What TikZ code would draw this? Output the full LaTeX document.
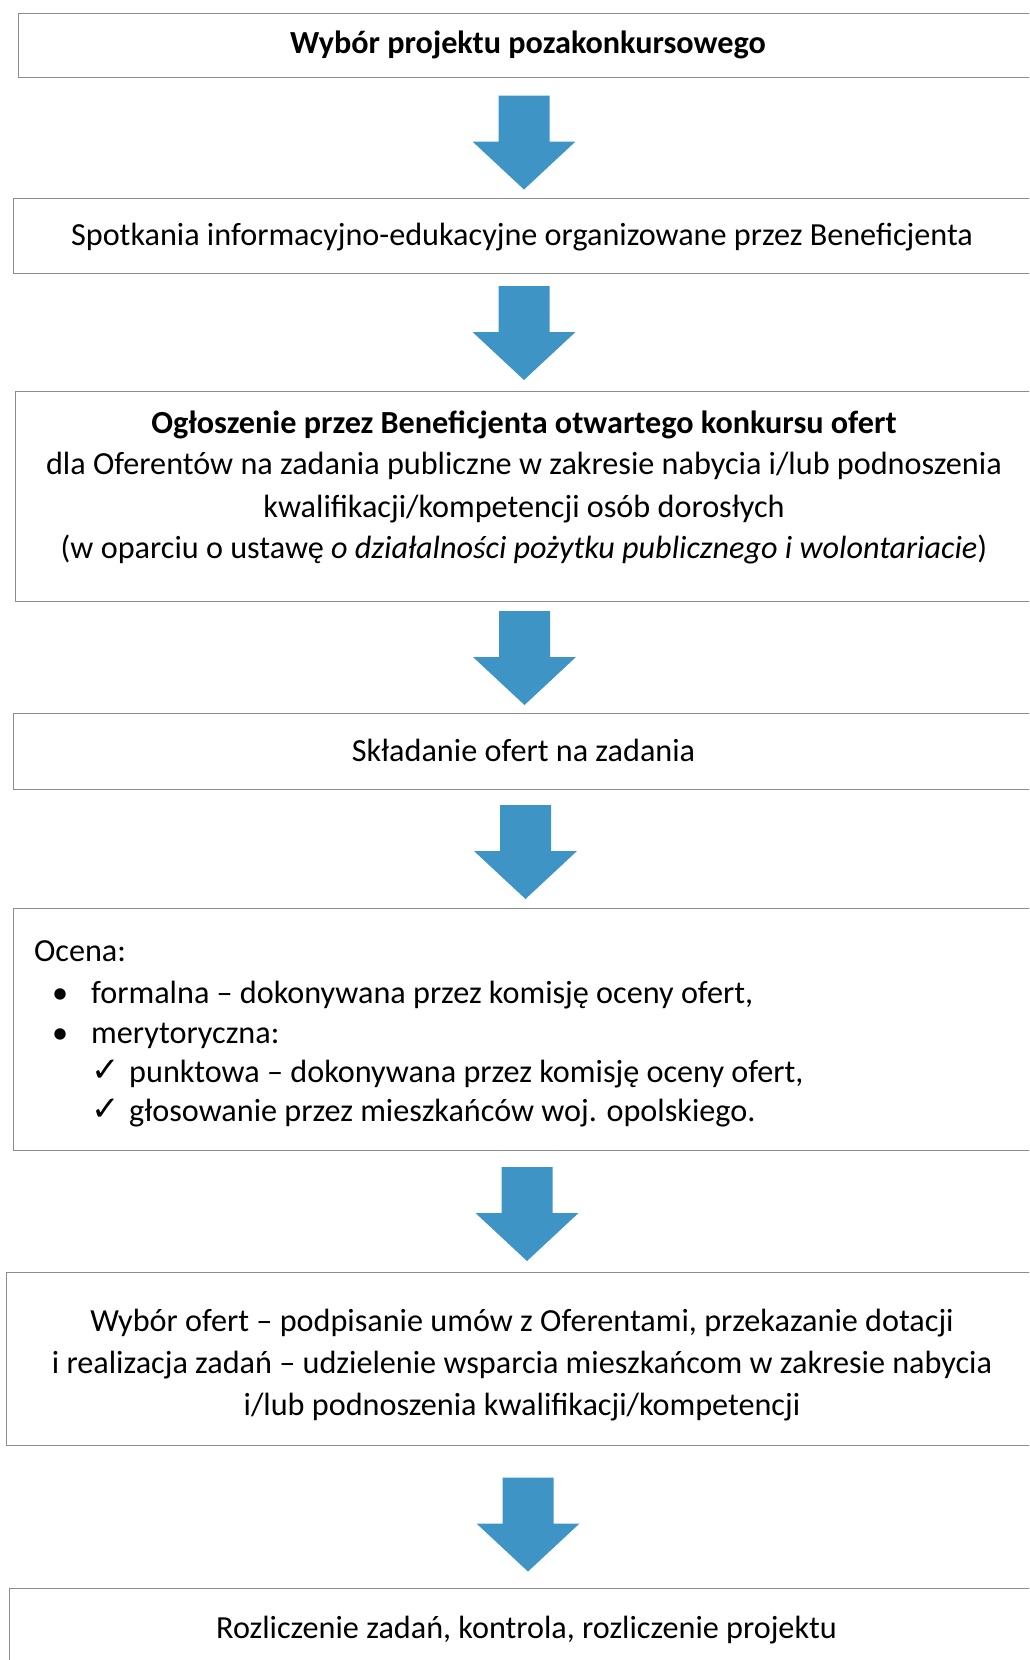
\documentclass[tikz,border=0pt]{standalone}
\usepackage{fontspec}
\setmainfont{Carlito}
\newfontfamily\symfont{DejaVu Sans}
\definecolor{arrowblue}{RGB}{62,148,196}
\definecolor{boxgray}{RGB}{140,140,140}
\begin{document}
\begin{tikzpicture}[x=1pt,y=-1pt,
  box/.style={draw=boxgray, line width=1pt, rectangle, anchor=north west, inner sep=0pt},
  txt/.style={anchor=base, inner sep=0pt, font=\fontsize{32.2}{42}\selectfont},
  ltxt/.style={anchor=base west, inner sep=0pt, font=\fontsize{32.2}{42}\selectfont},
  chk/.style={anchor=base west, inner sep=0pt, font=\symfont\fontsize{34}{36}\selectfont},
  downarrow/.pic={\fill[arrowblue] (-25.5,0) -- (25.5,0) -- (25.5,46) -- (51.5,46) -- (0,94) -- (-51.5,46) -- (-25.5,46) -- cycle;}
]
\useasboundingbox (0,0) rectangle (1029,1660);
\fill[white] (0,0) rectangle (1029,1660);
\clip (0,0) rectangle (1029,1660);

% boxes
\node[box, minimum width=1017pt, minimum height=64.6pt] (b1) at (18,12.7) {};
\node[box, minimum width=1022pt, minimum height=75pt] (b2) at (12.7,198) {};
\node[box, minimum width=1020pt, minimum height=210.4pt] (b3) at (14.8,390.6) {};
\node[box, minimum width=1022pt, minimum height=76.2pt] (b4) at (12.7,712.5) {};
\node[box, minimum width=1022pt, minimum height=241.6pt] (b5) at (12.7,908) {};
\node[box, minimum width=1029pt, minimum height=172.6pt] (b6) at (6.4,1272.4) {};
\node[box, minimum width=1027pt, minimum height=90pt] (b7) at (8.5,1588) {};

% texts
\node[txt] (t1) at (528,53) {\textbf{Wybór projektu pozakonkursowego}};
\node[txt] (t2) at (522,245) {Spotkania informacyjno-edukacyjne organizowane przez Beneficjenta};
\node[txt] (t3a) at (524,433) {\textbf{Ogłoszenie przez Beneficjenta otwartego konkursu ofert}};
\node[txt] (t3b) at (524,474.7) {dla Oferentów na zadania publiczne w zakresie nabycia i/lub podnoszenia};
\node[txt] (t3c) at (524,517) {kwalifikacji/kompetencji osób dorosłych};
\node[txt] (t3d) at (524,558.3) {(w oparciu o ustawę \textit{o działalności pożytku publicznego i wolontariacie})};
\node[txt] (t4) at (523.5,761.6) {Składanie ofert na zadania};

\node[ltxt] (t5a) at (33.9,961.6) {Ocena:};
\node[ltxt] (t5b1) at (52,1003) {•};
\node[ltxt] (t5b) at (91,1003) {formalna – dokonywana przez komisję oceny ofert,};
\node[ltxt] (t5c1) at (52,1043) {•};
\node[ltxt] (t5c) at (91,1043) {merytoryczna:};
\node[chk] (t5d1) at (91,1081) {✓};
\node[ltxt] (t5d) at (129,1082) {punktowa – dokonywana przez komisję oceny ofert,};
\node[chk] (t5e1) at (91,1120.5) {✓};
\node[ltxt] (t5e) at (129,1121.5) {głosowanie przez mieszkańców woj. opolskiego.};

\node[txt] (t6a) at (522,1331) {Wybór ofert – podpisanie umów z Oferentami, przekazanie dotacji};
\node[txt] (t6b) at (522,1373) {i realizacja zadań – udzielenie wsparcia mieszkańcom w zakresie nabycia};
\node[txt] (t6c) at (522,1415.7) {i/lub podnoszenia kwalifikacji/kompetencji};
\node[txt] (t7) at (526.5,1638) {Rozliczenie zadań, kontrola, rozliczenie projektu};

% block arrows
\pic at (524,95.5) {downarrow};
\pic at (524,286) {downarrow};
\pic at (524.5,611) {downarrow};
\pic at (525.5,805) {downarrow};
\pic at (527,1167) {downarrow};
\pic at (528,1477.5) {downarrow};
\end{tikzpicture}
\end{document}
